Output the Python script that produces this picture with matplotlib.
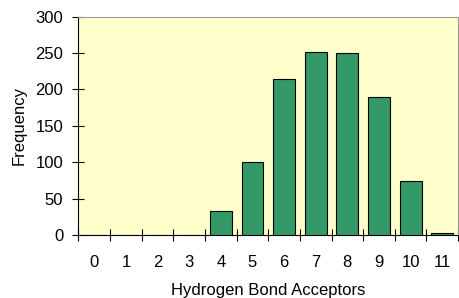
import matplotlib.pyplot as plt
import numpy as np

acceptors = list(range(12))
frequency = [0, 0, 0, 0, 33, 100, 214, 252, 250, 190, 75, 3]

plt.rcParams['font.family'] = ['Liberation Sans', 'DejaVu Sans']

fig = plt.figure(figsize=(4.59, 2.98), dpi=100)
ax = fig.add_axes([0.171, 0.211, 0.827, 0.733])
ax.set_facecolor('#FFFFCC')

x = np.arange(len(acceptors))
ax.bar(x, frequency, width=0.69, color='#339966', edgecolor='black', linewidth=0.8, zorder=3)

ax.set_xlim(-0.5, len(acceptors) - 0.5)
ax.set_ylim(0, 300)
ax.set_yticks(range(0, 301, 50))

# ticks between categories, labels at category centres
ax.set_xticks(np.arange(-0.5, len(acceptors), 1.0))
ax.set_xticklabels([])
ax.set_xticks(x, minor=True)
ax.set_xticklabels([str(a) for a in acceptors], minor=True)
ax.tick_params(axis='x', which='major', direction='inout', length=8.5, width=0.8)
ax.tick_params(axis='x', which='minor', length=0, pad=14, labelsize=12)
ax.tick_params(axis='y', direction='inout', length=8, width=0.8, labelsize=12, pad=7)

for side in ['top', 'right']:
    ax.spines[side].set_color('#999999')
    ax.spines[side].set_linewidth(0.8)
for side in ['left', 'bottom']:
    ax.spines[side].set_color('black')
    ax.spines[side].set_linewidth(0.8)

ax.set_xlabel('Hydrogen Bond Acceptors', fontsize=12, labelpad=10)
ax.set_ylabel('Frequency', fontsize=12, labelpad=6)

fig.savefig('out.png', dpi=100)
